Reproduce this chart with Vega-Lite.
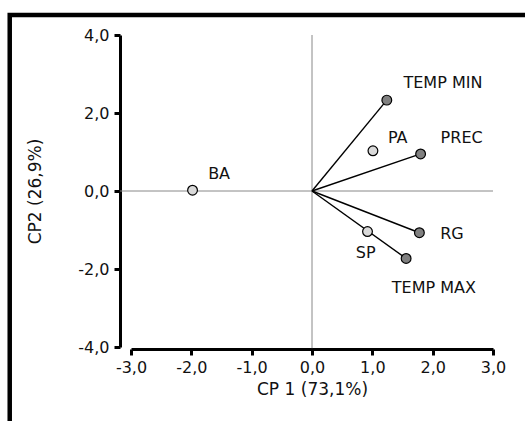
{
  "$schema": "https://vega.github.io/schema/vega-lite/v6.json",
  "width": 362,
  "height": 312,
  "autosize": {"type": "none"},
  "padding": {"left": 131, "top": 35, "right": 32, "bottom": 74},
  "background": "white",
  "config": {
    "view": {"stroke": null},
    "font": "DejaVu Sans",
    "locale": {
      "number": {"decimal": ",", "thousands": ".", "grouping": [3], "currency": ["", ""], "minus": "-"}
    },
    "axis": {
      "grid": false,
      "domainColor": "black",
      "domainWidth": 3,
      "tickColor": "black",
      "tickWidth": 3,
      "tickSize": 6,
      "labelFont": "DejaVu Sans",
      "labelFontSize": 16,
      "labelColor": "#111111",
      "labelFlush": false,
      "labelOverlap": false,
      "titleFont": "DejaVu Sans",
      "titleFontSize": 17,
      "titleFontWeight": "normal",
      "titleColor": "#111111",
      "format": ".1f"
    }
  },
  "datasets": {
    "pca": [
      {"name": "TEMP MIN", "kind": "variavel", "x": 1.24, "y": 2.33, "lx": 2.17, "ly": 2.77},
      {"name": "PREC", "kind": "variavel", "x": 1.8, "y": 0.95, "lx": 2.48, "ly": 1.36},
      {"name": "RG", "kind": "variavel", "x": 1.78, "y": -1.07, "lx": 2.32, "ly": -1.1},
      {"name": "TEMP MAX", "kind": "variavel", "x": 1.56, "y": -1.73, "lx": 2.02, "ly": -2.49},
      {"name": "PA", "kind": "local", "x": 1.01, "y": 1.03, "lx": 1.42, "ly": 1.36},
      {"name": "SP", "kind": "local", "x": 0.92, "y": -1.04, "lx": 0.89, "ly": -1.58},
      {"name": "BA", "kind": "local", "x": -1.98, "y": 0.02, "lx": -1.54, "ly": 0.44}
    ]
  },
  "data": {"name": "pca"},
  "layer": [
    {
      "data": {"values": [{}]},
      "mark": {"type": "rect", "fill": "transparent", "stroke": "black", "strokeWidth": 4.5, "clip": false},
      "encoding": {
        "x": {"datum": -5.01, "type": "quantitative"},
        "x2": {"datum": 5},
        "y": {"datum": 4.51, "type": "quantitative"},
        "y2": {"datum": -7}
      }
    },
    {
      "data": {"values": [{}]},
      "mark": {"type": "rule", "color": "#888888", "strokeWidth": 1, "clip": false},
      "encoding": {
        "x": {"datum": 0, "type": "quantitative"},
        "y": {"datum": 4, "type": "quantitative"},
        "y2": {"datum": -4.03}
      }
    },
    {
      "data": {"values": [{}]},
      "mark": {"type": "rule", "color": "#888888", "strokeWidth": 1, "clip": false},
      "encoding": {
        "y": {"datum": 0, "type": "quantitative"},
        "x": {"datum": -3.18, "type": "quantitative"},
        "x2": {"datum": 3}
      }
    },
    {
      "transform": [{"filter": "datum.kind === 'variavel'"}],
      "mark": {"type": "rule", "color": "black", "strokeWidth": 1.4},
      "encoding": {
        "x": {"field": "x", "type": "quantitative", "title": "CP 1 (73,1%)"},
        "y": {"field": "y", "type": "quantitative", "title": "CP2 (26,9%)"},
        "x2": {"datum": 0},
        "y2": {"datum": 0}
      }
    },
    {
      "mark": {"type": "point", "shape": "circle", "filled": true, "size": 95, "stroke": "black", "strokeWidth": 1.2, "opacity": 1},
      "encoding": {
        "x": {
          "field": "x",
          "type": "quantitative",
          "title": "CP 1 (73,1%)",
          "scale": {"domain": [-3, 3], "nice": false, "zero": false},
          "axis": {"values": [-3, -2, -1, 0, 1, 2, 3], "offset": 2, "labelPadding": 4, "titlePadding": 6}
        },
        "y": {
          "field": "y",
          "type": "quantitative",
          "title": "CP2 (26,9%)",
          "scale": {"domain": [-4, 4], "nice": false, "zero": false},
          "axis": {"values": [-4, -2, 0, 2, 4], "offset": 11, "labelPadding": 5, "titlePadding": 33}
        },
        "fill": {
          "field": "kind",
          "type": "nominal",
          "scale": {"domain": ["variavel", "local"], "range": ["#808080", "#d9d9d9"]},
          "legend": null
        }
      }
    },
    {
      "mark": {"type": "text", "align": "center", "baseline": "middle", "fontSize": 16, "color": "#111111", "font": "DejaVu Sans"},
      "encoding": {
        "x": {"field": "lx", "type": "quantitative", "title": "CP 1 (73,1%)"},
        "y": {"field": "ly", "type": "quantitative", "title": "CP2 (26,9%)"},
        "text": {"field": "name"}
      }
    }
  ]
}
